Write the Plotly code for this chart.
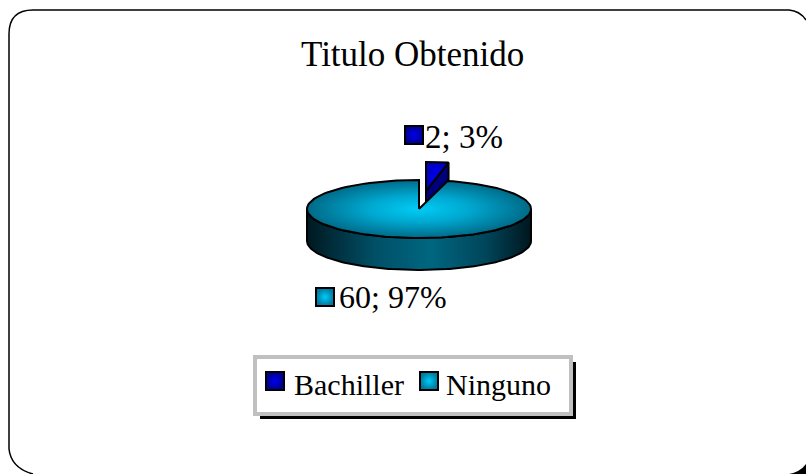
import numpy as np
import plotly.graph_objects as go

categories = ["Bachiller", "Ninguno"]
values = [2, 60]
percents = [3, 97]
title_text = "Titulo Obtenido"

FONT = "Liberation Serif"
CX, CY, RX, RY, DEPTH = 419, 209, 112, 29, 32
EXPLODE_DX, EXPLODE_DY = 7, -18
GAP_SCALE = 1.27

share = values[0] / sum(values) * 360


def arc(a0, a1, cx=CX, cy=CY, n=120):
    t = np.radians(np.linspace(a0, a1, n))
    return cx + RX * np.sin(t), cy - RY * np.cos(t)


fig = go.Figure()
line = dict(color="black", width=2)

# exploded Bachiller slice: cut face, then top
bx, by = CX + EXPLODE_DX, CY + EXPLODE_DY
ax, ay = arc(0, share, bx, by)
fig.add_trace(go.Scatter(
    x=[bx, ax[-1], ax[-1], bx, bx], y=[by, ay[-1], ay[-1] + DEPTH, by + DEPTH, by],
    mode="lines", fill="toself", fillcolor="#00007a", line=line, hoverinfo="skip", showlegend=False))
fig.add_trace(go.Scatter(
    x=np.r_[bx, ax, bx], y=np.r_[by, ay, by],
    mode="lines", fill="toself", line=line, hoverinfo="skip", showlegend=False,
    fillgradient=dict(type="radial", colorscale=[[0, "#0000f0"], [1, "#0000c0"]])))

# Ninguno: side wall, then top
sx, sy = arc(90, 270)
fig.add_trace(go.Scatter(
    x=np.r_[sx, sx[::-1], sx[0]], y=np.r_[sy, sy[::-1] + DEPTH, sy[0]],
    mode="lines", fill="toself", line=line, hoverinfo="skip", showlegend=False,
    fillgradient=dict(type="horizontal", colorscale=[[0, "#001820"], [0.3, "#004f66"], [0.55, "#006680"],
                                                     [0.8, "#00455a"], [1, "#00161e"]])))
tx, ty = arc(share * GAP_SCALE, 360)
fig.add_trace(go.Scatter(
    x=np.r_[CX, tx, CX], y=np.r_[CY, ty, CY],
    mode="lines", fill="toself", line=line, hoverinfo="skip", showlegend=False,
    fillgradient=dict(type="radial", colorscale=[[0, "#00ccf5"], [0.45, "#00a8d0"], [1, "#006a88"]])))

# legend swatches and data-label swatches
label_pos = [(414, 135), (325, 297)]
legend_pos = [(275, 381), (429, 381)]
swatch_cols = [("#00008c", "#0000f0"), ("#0078a0", "#00ccf5")]
for i in range(2):
    for px, py in (label_pos[i], legend_pos[i]):
        fig.add_trace(go.Scatter(
            x=[px], y=[py], mode="markers", hoverinfo="skip", showlegend=False,
            marker=dict(symbol="square", size=18, color=swatch_cols[i][0],
                        gradient=dict(type="radial", color=swatch_cols[i][1]),
                        line=dict(color="black", width=2))))

anns = [
    dict(x=412, y=54, text=title_text, font_size=35),
    dict(x=464, y=137, text=f"{values[0]}; {percents[0]}%", font_size=33),
    dict(x=393, y=297, text=f"{values[1]}; {percents[1]}%", font_size=32),
    dict(x=349, y=384, text=categories[0], font_size=30),
    dict(x=498, y=384, text=categories[1], font_size=30),
]
annotations = []
for a in anns:
    annotations.append(dict(x=a["x"], y=a["y"], xref="x", yref="y", text=a["text"],
                            showarrow=False, xanchor="center", yanchor="middle",
                            font=dict(family=FONT, size=a["font_size"], color="black")))

shapes = [
    # outer frame (runs past the right and bottom page edges)
    dict(type="path", layer="below", line=dict(color="black", width=1.5),
         path="M 9 449 L 9 34 Q 9 10 33 10 L 789 10 Q 800 11 806 20"),
    dict(type="path", layer="below", line=dict(color="black", width=1.5),
         path="M 9 449 Q 11 468 33 474"),
    # dark corner of the frame shadow
    dict(type="path", layer="below", fillcolor="black", line_width=0,
         path="M 789 474 Q 800 472 806 464 L 806 474 Z"),
    # legend shadow and box
    dict(type="rect", layer="below", x0=260, y0=362, x1=576, y1=419, fillcolor="black", line_width=0),
    dict(type="rect", layer="below", x0=255, y0=357, x1=571, y1=414, fillcolor="white",
         line=dict(color="#c0c0c0", width=4)),
]

fig.update_layout(
    width=806, height=474, margin=dict(l=0, r=0, t=0, b=0),
    paper_bgcolor="white", plot_bgcolor="white", showlegend=False,
    xaxis=dict(range=[0, 806], visible=False, fixedrange=True),
    yaxis=dict(range=[474, 0], visible=False, fixedrange=True),
    annotations=annotations, shapes=shapes,
)
fig.write_html("out.html", default_width="806px", default_height="474px",
               config={"displayModeBar": False},
               post_script="document.body.style.margin='0';document.documentElement.style.overflow='hidden';")
